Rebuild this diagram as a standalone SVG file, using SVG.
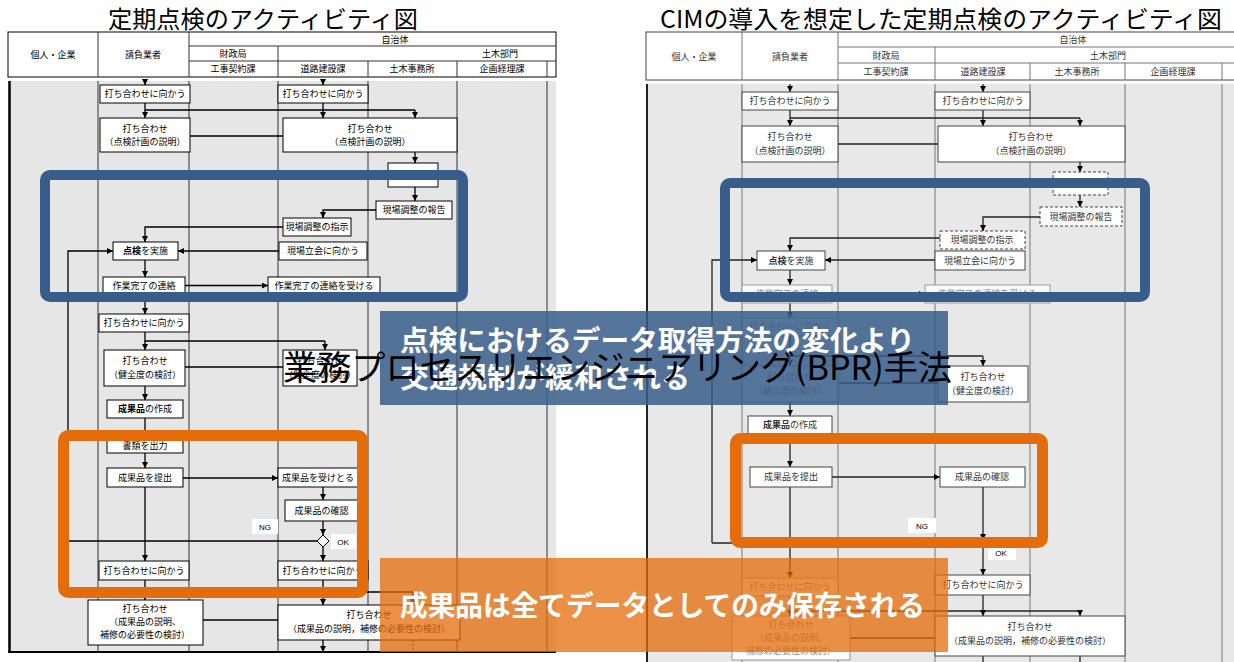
<svg xmlns="http://www.w3.org/2000/svg" width="1234" height="662" viewBox="0 0 1234 662">
<defs>
<style>
.title{font-family:"Noto Sans CJK JP","Noto Sans CJK SC",sans-serif;font-size:24px;fill:#000}
.h{font-family:"Noto Sans CJK JP",sans-serif;font-size:9px;fill:#000;text-anchor:middle}
.t{font-family:"Noto Sans CJK JP",sans-serif;font-size:9px;fill:#000;text-anchor:middle}
.tr{font-family:"Noto Sans CJK JP",sans-serif;font-size:9px;fill:#333;text-anchor:middle}
.tf{font-family:"Noto Sans CJK JP",sans-serif;font-size:9px;fill:#888;text-anchor:middle}
.lab{font-family:"Liberation Sans",sans-serif;font-size:8px;fill:#000;text-anchor:middle}
.box{fill:#fff;stroke:#000;stroke-width:1}
.boxr{fill:#fff;stroke:#444;stroke-width:1}
.boxf{fill:#fafafa;stroke:#999;stroke-width:1}
.dbox{fill:#fff;stroke:#444;stroke-width:1;stroke-dasharray:3 2}
.lane{stroke:#333;stroke-width:1;fill:none}
.laner{stroke:#777;stroke-width:1;fill:none}
.c{stroke:#000;stroke-width:1.3;fill:none}
.cr{stroke:#222;stroke-width:1.3;fill:none}
.a{marker-end:url(#ah)}
.bf{fill:none;stroke:#385d8a;stroke-width:10}
.of{fill:none;stroke:#e46c0a;stroke-width:11}
.ov{font-family:"Noto Sans CJK JP",sans-serif;font-size:28px;font-weight:bold;fill:#fff}
.bpr{font-family:"Noto Sans CJK JP",sans-serif;font-size:34px;fill:#000}
</style>
<marker id="ah" viewBox="0 0 10 10" refX="10" refY="5" markerWidth="6" markerHeight="6" markerUnits="userSpaceOnUse" orient="auto"><path d="M0,0 L10,5 L0,10 z" fill="#000"/></marker>
</defs>
<rect width="1234" height="662" fill="#fff"/>

<!-- ================= LEFT PANEL ================= -->
<g id="left-title"><text class="title" x="108" y="28" textLength="310" lengthAdjust="spacingAndGlyphs">定期点検のアクティビティ図</text></g>
<g id="left-header">
<rect x="8" y="32" width="548" height="45" fill="#fff" stroke="#000"/>
<path class="lane" d="M98,32V77M189,32V77M189,46H556M189,61H556M278,46V77M368,61V77M457,61V77M547,61V77"/>
<text class="h" x="53" y="58">個人・企業</text>
<text class="h" x="143" y="58">請負業者</text>
<text class="h" x="395" y="43">自治体</text>
<text class="h" x="233" y="57">財政局</text>
<text class="h" x="500" y="57">土木部門</text>
<text class="h" x="233" y="72">工事契約課</text>
<text class="h" x="323" y="72">道路建設課</text>
<text class="h" x="412" y="72">土木事務所</text>
<text class="h" x="502" y="72">企画経理課</text>
</g>
<g id="left-body">
<rect x="8" y="81" width="548" height="571" fill="#e6e6e6"/>
<path class="lane" d="M98,81V652M189,81V652M278,81V652M368,81V652M457,81V652M547,81V652"/>
<path d="M9.5,81V652" stroke="#000" stroke-width="2.5"/>
<path d="M8,652H556" stroke="#000" stroke-width="2"/>
</g>

<g id="left-connectors">
<path class="c a" d="M145,81V85"/>
<path class="c a" d="M323,81V85"/>
<path class="c" d="M145,103V110M323,103V110M145,110H415"/>
<path class="c a" d="M145,110V118"/>
<path class="c a" d="M323,110V118"/>
<path class="c a" d="M415,110V118"/>
<path class="c" d="M190,136H283"/>
<path class="c a" d="M415,152V163"/>
<path class="c a" d="M415,187V201"/>
<path class="c a" d="M376,210H323V218"/>
<path class="c a" d="M283,227H145V242"/>
<path class="c a" d="M279,251H178"/>
<path class="c a" d="M68,541V251H113"/>
<path class="c a" d="M145,260V277"/>
<path class="c a" d="M185,285.5H268"/>
<path class="c a" d="M145,294V314"/>
<path class="c" d="M145,332V341H325"/>
<path class="c a" d="M325,341V350"/>
<path class="c a" d="M145,341V350"/>
<path class="c" d="M185,367H283"/>
<path class="c a" d="M145,386V400"/>
<path class="c a" d="M145,418V437"/>
<path class="c a" d="M145,453V468"/>
<path class="c a" d="M183,478H278"/>
<path class="c a" d="M323,487V500"/>
<path class="c a" d="M323,521V535"/>
<path class="c" d="M317,541H68"/>
<path class="c a" d="M323,547V561"/>
<path class="c a" d="M145,487V561"/>
<path class="c a" d="M145,580V600"/>
<path class="c" d="M323,580V592H413"/>
<path class="c a" d="M323,592V605"/>
<path class="c a" d="M413,592V605"/>
<path class="c" d="M203,620H278"/>
<path class="c a" d="M323,640V652"/>
<path d="M413,640V652" stroke="#000" stroke-width="1" stroke-dasharray="2 2"/>
</g>

<g id="L1"><rect class="box" x="100" y="85" width="90" height="18"/><text class="t" x="145" y="97">打ち合わせに向かう</text></g>
<g id="L2"><rect class="box" x="278" y="85" width="90" height="18"/><text class="t" x="323" y="97">打ち合わせに向かう</text></g>
<g id="L3"><rect class="box" x="100" y="118" width="90" height="34"/><text class="t" x="145" y="132">打ち合わせ</text><text class="t" x="145" y="145">（点検計画の説明）</text></g>
<g id="L4"><rect class="box" x="283" y="118" width="174" height="34"/><text class="t" x="370" y="132">打ち合わせ</text><text class="t" x="370" y="145">（点検計画の説明）</text></g>
<g id="L5"><rect class="box" x="388" y="163" width="50" height="24"/></g>
<g id="L6"><rect class="box" x="376" y="201" width="76" height="18"/><text class="t" x="414" y="213">現場調整の報告</text></g>
<g id="L7"><rect class="box" x="283" y="218" width="68" height="18"/><text class="t" x="317" y="230">現場調整の指示</text></g>
<g id="L8"><rect class="box" x="113" y="242" width="65" height="18"/><text class="t" x="145.5" y="254"><tspan font-weight="bold">点検</tspan>を実施</text></g>
<g id="L9"><rect class="box" x="279" y="242" width="88" height="18"/><text class="t" x="323" y="254">現場立会に向かう</text></g>
<g id="L10"><rect class="box" x="103" y="277" width="82" height="17"/><text class="t" x="144" y="289">作業完了の連絡</text></g>
<g id="L11"><rect class="box" x="268" y="277" width="112" height="17"/><text class="t" x="324" y="289">作業完了の連絡を受ける</text></g>
<g id="L12"><rect class="box" x="99" y="314" width="90" height="18"/><text class="t" x="144" y="326">打ち合わせに向かう</text></g>
<g id="L13"><rect class="box" x="104" y="350" width="81" height="36"/><text class="t" x="145" y="364">打ち合わせ</text><text class="t" x="145" y="378">（健全度の検討）</text></g>
<g id="L14"><rect class="box" x="283" y="350" width="74" height="36"/><text class="t" x="320" y="364">打ち合わせ</text><text class="t" x="320" y="378">（健全度の検討）</text></g>
<g id="L15"><rect class="box" x="107" y="400" width="76" height="18"/><text class="t" x="145" y="412"><tspan font-weight="bold">成果品</tspan>の作成</text></g>
<g id="L16"><rect class="box" x="107" y="437" width="76" height="16"/><text class="t" x="145" y="449">書類を出力</text></g>
<g id="L17"><rect class="box" x="107" y="468" width="76" height="19"/><text class="t" x="145" y="481">成果品を提出</text></g>
<g id="L18"><rect class="box" x="278" y="468" width="80" height="19"/><text class="t" x="318" y="481">成果品を受けとる</text></g>
<g id="L19"><rect class="box" x="285" y="500" width="73" height="21"/><text class="t" x="321.5" y="514">成果品の確認</text></g>
<g id="L-decision"><path d="M323,535L329,541L323,547L317,541Z" fill="#fff" stroke="#000"/></g>
<g id="L-NG"><rect x="252" y="519" width="26" height="15" fill="#fff"/><text class="lab" x="265" y="530">NG</text></g>
<g id="L-OK"><rect x="331" y="534" width="25" height="15" fill="#fff"/><text class="lab" x="343" y="545">OK</text></g>
<g id="L20"><rect class="box" x="99" y="561" width="90" height="19"/><text class="t" x="144" y="574">打ち合わせに向かう</text></g>
<g id="L21"><rect class="box" x="278" y="561" width="90" height="19"/><text class="t" x="323" y="574">打ち合わせに向かう</text></g>
<g id="L22"><rect class="box" x="88" y="600" width="115" height="45"/><text class="t" x="145" y="612">打ち合わせ</text><text class="t" x="145" y="625">（成果品の説明、</text><text class="t" x="145" y="638">補修の必要性の検討）</text></g>
<g id="L23"><rect class="box" x="278" y="605" width="182" height="35"/><text class="t" x="369" y="618">打ち合わせ</text><text class="t" x="369" y="632">（成果品の説明，補修の必要性の検討）</text></g>

<!-- ================= RIGHT PANEL ================= -->
<g id="right-title"><text class="title" x="660" y="28" textLength="562" lengthAdjust="spacingAndGlyphs">CIMの導入を想定した定期点検のアクティビティ図</text></g>
<g id="right-header">
<rect x="646" y="32" width="590" height="48" fill="#fff" stroke="#444"/>
<path class="laner" d="M742,32V80M838,32V80M838,47H1234M838,63H1234M935,47V80M1030,63V80M1125,63V80M1222,63V80"/>
<text class="tr" x="694" y="60">個人・企業</text>
<text class="tr" x="790" y="60">請負業者</text>
<text class="tr" x="1073" y="43">自治体</text>
<text class="tr" x="886" y="59">財政局</text>
<text class="tr" x="1108" y="59">土木部門</text>
<text class="tr" x="886" y="75">工事契約課</text>
<text class="tr" x="983" y="75">道路建設課</text>
<text class="tr" x="1077" y="75">土木事務所</text>
<text class="tr" x="1173" y="75">企画経理課</text>
</g>
<g id="right-body">
<rect x="646" y="84" width="588" height="578" fill="#e8e8e8"/>
<path class="laner" d="M742,84V662M838,84V662M935,84V662M1030,84V662M1125,84V662M1222,84V662"/>
<path d="M647,84V662" stroke="#222" stroke-width="2"/>
</g>

<g id="right-connectors">
<path class="cr a" d="M790,84V92"/>
<path class="cr a" d="M983,84V92"/>
<path class="cr" d="M790,110V118M983,110V118M790,118H1080"/>
<path class="cr a" d="M790,118V126"/>
<path class="cr a" d="M983,118V126"/>
<path class="cr a" d="M1080,118V126"/>
<path class="cr" d="M838,144H938"/>
<path class="cr a" d="M1080,162V172"/>
<path class="cr a" d="M1080,195V207"/>
<path class="cr a" d="M1040,217H983V231"/>
<path class="cr a" d="M940,238H790V251"/>
<path class="cr a" d="M935,260H825"/>
<path class="cr a" d="M712,543V260H757"/>
<path class="cr a" d="M790,270V285"/>
<path class="cr a" d="M832,294H925"/>
<path class="cr a" d="M790,303V318"/>
<path class="cr" d="M790,336V356H983"/>
<path class="cr a" d="M983,356V366"/>
<path class="cr a" d="M790,356V366"/>
<path class="cr" d="M838,383H938"/>
<path class="cr a" d="M790,402V416"/>
<path class="cr a" d="M790,434V467"/>
<path class="cr a" d="M832,477H940"/>
<path class="cr a" d="M790,487V578"/>
<path class="cr a" d="M983,487V540"/>
<path class="cr a" d="M983,540V575"/>
<path class="cr" d="M983,543H712"/>
<path class="cr" d="M790,596V611M983,595V611M790,611H1080"/>
<path class="cr a" d="M790,611V616"/>
<path class="cr a" d="M983,611V616"/>
<path class="cr a" d="M1080,611V616"/>
<path class="cr" d="M850,638H935"/>
<path class="cr" d="M983,656V662M1080,656V662"/>
</g>

<g id="R1"><rect class="boxr" x="742" y="92" width="96" height="18"/><text class="tr" x="790" y="104">打ち合わせに向かう</text></g>
<g id="R2"><rect class="boxr" x="935" y="92" width="95" height="18"/><text class="tr" x="983" y="104">打ち合わせに向かう</text></g>
<g id="R3"><rect class="boxr" x="742" y="126" width="96" height="36"/><text class="tr" x="790" y="140">打ち合わせ</text><text class="tr" x="790" y="154">（点検計画の説明）</text></g>
<g id="R4"><rect class="boxr" x="938" y="126" width="187" height="36"/><text class="tr" x="1031" y="140">打ち合わせ</text><text class="tr" x="1031" y="154">（点検計画の説明）</text></g>
<g id="R5"><rect class="dbox" x="1053" y="172" width="55" height="23"/></g>
<g id="R6"><rect class="dbox" x="1040" y="207" width="82" height="19"/><text class="tr" x="1081" y="220">現場調整の報告</text></g>
<g id="R7"><rect class="dbox" x="940" y="231" width="85" height="18"/><text class="tr" x="982" y="243">現場調整の指示</text></g>
<g id="R8"><rect class="boxr" x="757" y="251" width="68" height="19"/><text class="tr" x="791" y="264"><tspan font-weight="bold">点検</tspan>を実施</text></g>
<g id="R9"><rect class="boxr" x="935" y="251" width="90" height="19"/><text class="tr" x="980" y="264">現場立会に向かう</text></g>
<g id="R10"><rect class="boxf" x="742" y="285" width="90" height="18"/><text class="tf" x="787" y="297">作業完了の連絡</text></g>
<g id="R11"><rect class="boxf" x="925" y="285" width="125" height="18"/><text class="tf" x="987" y="297">作業完了の連絡を受ける</text></g>
<g id="R12"><rect class="boxf" x="742" y="318" width="96" height="18"/><text class="tf" x="790" y="330">打ち合わせに向かう</text></g>
<g id="R13"><rect class="boxf" x="742" y="366" width="96" height="36"/><text class="tf" x="790" y="380">打ち合わせ</text><text class="tf" x="790" y="394">（健全度の検討）</text></g>
<g id="R14"><rect class="boxr" x="938" y="366" width="90" height="36"/><text class="tr" x="983" y="380">打ち合わせ</text><text class="tr" x="983" y="394">（健全度の検討）</text></g>
<g id="R15"><rect class="boxr" x="748" y="416" width="84" height="18"/><text class="tr" x="790" y="428"><tspan font-weight="bold">成果品</tspan>の作成</text></g>
<g id="R16"><rect class="boxr" x="750" y="467" width="82" height="20"/><text class="tr" x="791" y="480">成果品を提出</text></g>
<g id="R17"><rect class="boxr" x="940" y="467" width="85" height="20"/><text class="tr" x="982" y="480">成果品の確認</text></g>
<g id="R-NG"><rect x="908" y="518" width="28" height="15" fill="#fff"/><text class="lab" x="922" y="529">NG</text></g>
<g id="R-OK"><rect x="988" y="545" width="28" height="15" fill="#fff"/><text class="lab" x="1001" y="556">OK</text></g>
<g id="R18"><rect class="boxf" x="742" y="578" width="96" height="18"/><text class="tf" x="790" y="590">打ち合わせに向かう</text></g>
<g id="R19"><rect class="boxr" x="935" y="575" width="95" height="20"/><text class="tr" x="983" y="588">打ち合わせに向かう</text></g>
<g id="R20"><rect class="boxf" x="732" y="616" width="118" height="44"/><text class="tf" x="791" y="628">打ち合わせ</text><text class="tf" x="791" y="641">（成果品の説明、</text><text class="tf" x="791" y="654">補修の必要性の検討）</text></g>
<g id="R21"><rect class="boxr" x="935" y="616" width="190" height="40"/><text class="tr" x="1030" y="630">打ち合わせ</text><text class="tr" x="1030" y="644">（成果品の説明，補修の必要性の検討）</text></g>

<!-- ================= HIGHLIGHTS / OVERLAYS ================= -->
<g id="frame-blue-left"><rect class="bf" x="45" y="175" width="418" height="122" rx="5"/></g>
<g id="frame-blue-right"><rect class="bf" x="725" y="183" width="420" height="114" rx="5"/></g>
<g id="frame-orange-left"><rect class="of" x="63.5" y="435.5" width="299" height="157" rx="5"/></g>
<g id="frame-orange-right"><rect class="of" x="735.5" y="438.5" width="307" height="104" rx="5"/></g>

<g id="callout-blue">
<rect x="380" y="311" width="568" height="94" fill="#385d8a" fill-opacity="0.85"/>
<text class="ov" x="400" y="351" textLength="515" lengthAdjust="spacingAndGlyphs">点検におけるデータ取得方法の変化より</text>
<text class="ov" x="400" y="388" textLength="290" lengthAdjust="spacingAndGlyphs">交通規制が緩和される</text>
</g>
<g id="callout-orange">
<rect x="380" y="558" width="568" height="94" fill="#e46c0a" fill-opacity="0.75"/>
<text class="ov" x="400" y="616" textLength="525" lengthAdjust="spacingAndGlyphs">成果品は全てデータとしてのみ保存される</text>
</g>
<g id="bpr-title">
<text class="bpr" x="283" y="380" textLength="669" lengthAdjust="spacingAndGlyphs">業務プロセスリエンジニアリング(BPR)手法</text>
</g>
</svg>
